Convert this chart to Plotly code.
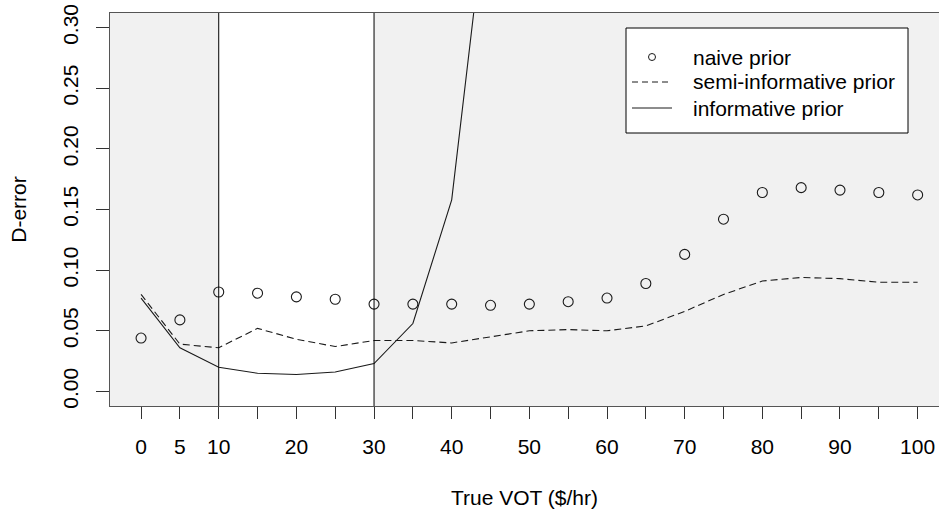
import plotly.graph_objects as go

vot = [0, 5, 10, 15, 20, 25, 30, 35, 40, 45, 50, 55, 60, 65, 70, 75, 80, 85, 90, 95, 100]
naive = [0.044, 0.059, 0.082, 0.081, 0.078, 0.076, 0.072, 0.072, 0.072, 0.071, 0.072,
         0.074, 0.077, 0.089, 0.113, 0.142, 0.164, 0.168, 0.166, 0.164, 0.162]
semi = [0.080, 0.039, 0.036, 0.052, 0.043, 0.037, 0.042, 0.042, 0.040, 0.045, 0.050,
        0.051, 0.050, 0.054, 0.066, 0.080, 0.091, 0.094, 0.093, 0.090, 0.090]
vot_inf = [0, 5, 10, 15, 20, 25, 30, 35, 40, 45]
informative = [0.077, 0.036, 0.020, 0.015, 0.014, 0.016, 0.023, 0.056, 0.158, 0.43]

x_tickvals = list(range(0, 101, 5))
x_ticktext = ["0", "5", "10", "", "20", "", "30", "", "40", "", "50", "", "60", "",
              "70", "", "80", "", "90", "", "100"]
y_tickvals = [0, 0.05, 0.10, 0.15, 0.20, 0.25, 0.30]
y_ticktext = ["0.00", "0.05", "0.10", "0.15", "0.20", "0.25", "0.30"]
region = [10, 30]
legend_labels = ["naive prior", "semi-informative prior", "informative prior"]

FONT = "Liberation Sans, Arial, sans-serif"
INK = "#1a1a1a"

W, H = 939, 514
ML, MR, MT, MB = 110, 0, 13, 108
PW, PH = W - ML - MR, H - MT - MB


def px(xp):
    # window pixel -> paper fraction
    return (xp - ML) / PW


def py(yp):
    return (H - MB - yp) / PH


fig = go.Figure()
fig.add_trace(go.Scatter(x=vot, y=naive, mode="markers", name=legend_labels[0],
                         marker=dict(symbol="circle-open", size=10, color=INK,
                                     line=dict(width=1.1, color=INK))))
fig.add_trace(go.Scatter(x=vot, y=semi, mode="lines", name=legend_labels[1],
                         line=dict(color=INK, width=1.1, dash="7px,4px")))
fig.add_trace(go.Scatter(x=vot_inf, y=informative, mode="lines", name=legend_labels[2],
                         line=dict(color=INK, width=1.1)))

# white band and vertical lines
fig.add_shape(type="rect", xref="x", yref="y domain", x0=region[0], x1=region[1], y0=0, y1=1,
              fillcolor="white", line=dict(width=0), layer="below")
for xv in region:
    fig.add_shape(type="line", xref="x", yref="y domain", x0=xv, x1=xv, y0=0, y1=1,
                  line=dict(color="black", width=1), layer="above")

# legend box (R-style)
fig.add_shape(type="rect", xref="paper", yref="paper", x0=px(626), x1=px(908),
              y0=py(133), y1=py(28), fillcolor="white", line=dict(color="black", width=1),
              layer="above")
rows = [57, 82, 108]
fig.add_shape(type="circle", xref="paper", yref="paper", x0=px(648.5), x1=px(655.5),
              y0=py(rows[0] + 3.5), y1=py(rows[0] - 3.5), line=dict(color=INK, width=1),
              layer="above")
fig.add_shape(type="line", xref="paper", yref="paper", x0=px(632), x1=px(672),
              y0=py(rows[1]), y1=py(rows[1]), line=dict(color=INK, width=1, dash="6px,4px"),
              layer="above")
fig.add_shape(type="line", xref="paper", yref="paper", x0=px(632), x1=px(672),
              y0=py(rows[2]), y1=py(rows[2]), line=dict(color=INK, width=1), layer="above")
for lab, r in zip(legend_labels, rows):
    fig.add_annotation(xref="paper", yref="paper", x=px(691), y=py(r), text=lab,
                       showarrow=False, xanchor="left", yanchor="middle",
                       font=dict(size=21, family=FONT, color="black"))

fig.update_layout(
    width=W, height=H,
    margin=dict(l=ML, r=MR, t=MT, b=MB),
    paper_bgcolor="white", plot_bgcolor="#f1f1f1",
    font=dict(family=FONT, size=21, color="black"),
    showlegend=False,
    xaxis=dict(range=[-4, 102.75], tickvals=x_tickvals, ticktext=x_ticktext,
               showgrid=False, zeroline=False, showline=True, linecolor="#555555",
               linewidth=1, mirror=True, ticks="outside", ticklen=12, tickcolor="#333333",
               tickfont=dict(size=21), automargin=False, ticklabelstandoff=10,
               ticklabeloverflow="allow",
               title=dict(text="True VOT ($/hr)", standoff=33, font=dict(size=21))),
    yaxis=dict(range=[-0.012, 0.312], tickvals=y_tickvals, ticktext=y_ticktext,
               showgrid=False, zeroline=False, showline=True, linecolor="#555555",
               linewidth=1, ticks="outside", ticklen=13, tickcolor="#333333",
               tickangle=-90, tickfont=dict(size=21), automargin=False,
               ticklabelstandoff=10, ticklabeloverflow="allow",
               title=dict(text="D-error", standoff=26, font=dict(size=21))),
)

fig.write_html(
    "out.html",
    config={"displayModeBar": False},
    post_script="document.body.style.margin='0';document.body.style.overflow='hidden';",
)
